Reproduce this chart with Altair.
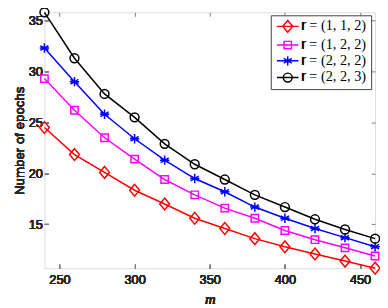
import altair as alt
import pandas as pd

m_values = [240, 260, 280, 300, 320, 340, 360, 380, 400, 420, 440, 460]
labels = ["𝐫 = (1, 1, 2)", "𝐫 = (1, 2, 2)", "𝐫 = (2, 2, 2)", "𝐫 = (2, 2, 3)"]
series_112 = [24.5, 21.85, 20.1, 18.35, 17.0, 15.6, 14.6, 13.6, 12.8, 12.1, 11.4, 10.7]
series_122 = [29.3, 26.2, 23.5, 21.4, 19.4, 17.9, 16.6, 15.6, 14.4, 13.5, 12.7, 11.9]
series_222 = [32.3, 29.0, 25.8, 23.4, 21.3, 19.5, 18.2, 16.7, 15.6, 14.6, 13.7, 12.8]
series_223 = [35.8, 31.3, 27.8, 25.5, 22.9, 20.9, 19.4, 17.9, 16.7, 15.5, 14.5, 13.6]
colors = ["#ff0000", "#ff00ff", "#0000ff", "#000000"]
x_ticks = [250, 300, 350, 400, 450]
y_ticks = [15, 20, 25, 30, 35]

# marker paths (unit space) and legend paths (line + marker)
marker_paths = [
    "M0,-1.2L1,0L0,1.2L-1,0Z",
    "M-0.75,-0.75L0.75,-0.75L0.75,0.75L-0.75,0.75Z",
    "M0,-0.95L0,0.95M-0.82,-0.48L0.82,0.48M-0.82,0.48L0.82,-0.48M-0.95,0L0.95,0",
    "M0.9,0A0.9,0.9,0,1,1,-0.9,0A0.9,0.9,0,1,1,0.9,0Z",
]
legend_paths = ["M-2.2,0L2.2,0" + p for p in marker_paths]

all_series = [series_112, series_122, series_222, series_223]
rows = []
for lab, vals in zip(labels, all_series):
    for mv, v in zip(m_values, vals):
        rows.append({"m": mv, "epochs": v, "series": lab})
df = pd.DataFrame(rows)

ymin = min(min(s) for s in all_series)
ymax = max(max(s) for s in all_series)

axis_common = dict(
    grid=False, domain=False, tickSize=4, offset=-4, tickColor="#808080",
    labelColor="#262626", labelFont="Liberation Sans", labelFontSize=13,
)

x_scale = alt.Scale(domain=[min(m_values), max(m_values)], nice=False, zero=False)
y_scale = alt.Scale(domain=[ymin, ymax], nice=False, zero=False)

x_bottom = alt.X("m:Q", scale=x_scale, axis=alt.Axis(
    values=x_ticks, title="m", titleFont="Liberation Serif", titleFontStyle="italic",
    titleFontWeight="normal", titleFontSize=15, titleColor="#262626", titlePadding=5,
    labelPadding=6, orient="bottom", **axis_common))
y_left = alt.Y("epochs:Q", scale=y_scale, axis=alt.Axis(
    values=y_ticks, title="Number of epochs", titleFont="Liberation Sans",
    titleFontWeight="normal", titleFontSize=13.5, titleColor="#262626", titlePadding=2,
    labelPadding=2, orient="left", **axis_common))

x_top = alt.X("m:Q", scale=x_scale, axis=alt.Axis(
    values=x_ticks, title=None, labels=False, orient="top", **axis_common))
y_right = alt.Y("epochs:Q", scale=y_scale, axis=alt.Axis(
    values=y_ticks, title=None, labels=False, orient="right", **axis_common))

base = alt.Chart(df)

layers = []
for i, lab in enumerate(labels):
    sub = base.transform_filter(alt.datum.series == lab)
    layers.append(sub.mark_line(strokeWidth=1.5, color=colors[i]).encode(x=x_bottom, y=y_left))
    layers.append(sub.mark_point(shape=marker_paths[i], size=100, filled=False,
                                 strokeWidth=1.5, color=colors[i], opacity=1)
                  .encode(x=x_bottom, y=y_left))

# axes on top/right (ticks only)
layers.append(base.transform_filter("false").mark_point(opacity=0).encode(x=x_top, y=y_right))

legend_layer = base.transform_filter("false").mark_point(filled=False, strokeWidth=1.5, size=100, opacity=1).encode(
    x=x_bottom, y=y_left,
    color=alt.Color("series:N", scale=alt.Scale(domain=labels, range=colors),
                    legend=alt.Legend(title=None, orient="none", legendX=230, legendY=3,
                                      labelFont="Liberation Serif", labelFontSize=14.5,
                                      labelColor="#000000", symbolSize=100,
                                      symbolStrokeWidth=1.5, symbolOffset=6,
                                      labelOffset=6, rowPadding=1,
                                      padding=4, strokeColor="#404040",
                                      fillColor="#ffffff", symbolFillColor="transparent")),
    shape=alt.Shape("series:N", scale=alt.Scale(domain=labels, range=legend_paths),
                    legend=alt.Legend(title=None)),
)
layers.append(legend_layer)

chart = alt.layer(*layers).properties(
    width=336, height=260,
    padding={"left": 37, "top": 2, "right": 5, "bottom": 38},
    autosize=alt.AutoSizeParams(type="none"),
).configure_view(stroke="#808080", strokeWidth=1).configure(background="#ffffff")

chart.save("out.html", embed_options={"renderer": "svg", "actions": False})
